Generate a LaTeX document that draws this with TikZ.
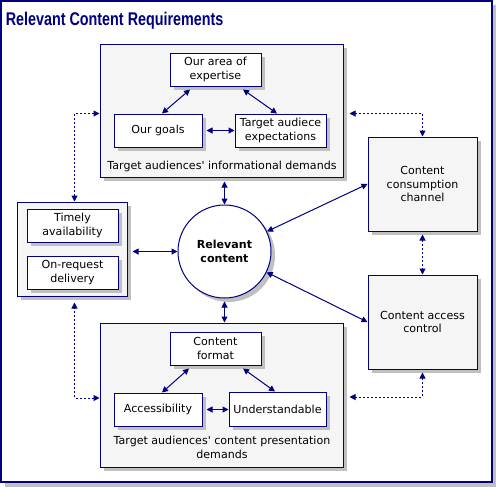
\documentclass[tikz,border=0pt]{standalone}
\usepackage{fontspec}
\setmainfont{DejaVu Sans}
\newfontfamily\headfont{Liberation Sans}
\usetikzlibrary{arrows.meta,calc}
\definecolor{navyline}{RGB}{0,0,128}
\definecolor{panelgray}{RGB}{245,245,245}
\definecolor{shadegray}{RGB}{192,192,192}
% node with a grey shadow 4px right and down
\newcommand{\shadednode}[4]{%
  \node [#1,draw=none,fill=shadegray] at ($(#3)+(4,4)$) {};
  \node [#1] (#2) at (#3) {#4};}

\begin{document}
\begin{tikzpicture}[x=0.75pt,y=-0.75pt,
  >={Triangle[length=4.5pt,width=4.5pt]},
  panel/.style={draw=navyline,line width=0.75pt,fill=panelgray,inner sep=1pt,align=center,font=\fontsize{8.3}{10}\selectfont},
  item/.style={draw=navyline,line width=0.75pt,fill=white,align=center,inner sep=1pt,minimum width=68.25pt,minimum height=24.75pt,font=\fontsize{8.3}{10}\selectfont},
  caption/.style={align=center,font=\fontsize{8.3}{10}\selectfont},
  link/.style={navyline,line width=0.75pt,<->},
  dotlink/.style={link,dash pattern=on 1.5pt off 1.5pt}]

\useasboundingbox (0,0) rectangle (496,487);
%Shape: Outer frame
\fill [shadegray] (5,5) rectangle (496,487);
\draw [navyline,line width=1pt,fill=white] (1,1) rectangle (492,482);
% Text Node
\node [anchor=base west,inner sep=0pt,text=navyline,font=\headfont\bfseries\fontsize{13.8}{16}\selectfont] (title) at (5.5,25) {\scalebox{0.78}[1]{Relevant Content Requirements}};

%Shape: Informational demands
\shadednode{panel,minimum width=182.25pt,minimum height=99.75pt}{infodem}{221.5,110.5}{}
\shadednode{item}{expertise}{215.5,69.5}{Our area of\\expertise}
\shadednode{item,minimum width=66pt}{goals}{158,130.5}{Our goals}
\shadednode{item}{expect}{280.5,130.5}{Target audiece\\expectations}
% Text Node
\node [caption] (infolabel) at (222,166) {Target audiences\textquotesingle\ informational demands};

%Shape: Delivery
\shadednode{panel,minimum width=82.5pt,minimum height=70.5pt}{delivery}{72,249}{}
\shadednode{item}{timely}{72.5,225.5}{Timely\\availability}
\shadednode{item}{onrequest}{72.5,272.5}{On-request\\delivery}

%Shape: Circle
\shadednode{item,circle,minimum size=69.75pt,inner sep=0pt,font=\bfseries\fontsize{8.3}{10}\selectfont}{relevant}{224.5,251.5}{Relevant\\content}

%Shape: Presentation demands
\shadednode{panel,minimum width=182.25pt,minimum height=108pt}{presdem}{221.5,395}{}
\shadednode{item}{format}{215.5,348.5}{Content\\format}
\shadednode{item,minimum width=66pt}{access}{158,409.5}{Accessibility}
\shadednode{item,minimum width=72.75pt,minimum height=25.5pt}{underst}{277.5,409}{Understandable}
% Text Node
\node [caption] (preslabel) at (222,447.5) {Target audiences\textquotesingle\ content presentation\\demands};

%Shape: Channel and access control
\shadednode{panel,minimum width=81.75pt,minimum height=70.5pt}{channel}{422.5,184}{Content\\consumption\\channel}
\shadednode{panel,minimum width=81.75pt,minimum height=70.5pt}{control}{422.5,322}{Content access\\control}

%Straight Lines
\draw [link] ($(expertise.south)+(-25.5,3)$) -- ($(goals.north)+(4,0)$);
\draw [link] ($(expertise.south)+(27.5,3)$) -- ($(expect.north)+(-3.5,0)$);
\draw [link] ($(goals.east)+(4,0)$) -- (expect.west);
\draw [link] ($(format.south)+(-26.5,3)$) -- ($(access.north)+(4,0)$);
\draw [link] ($(format.south)+(27.5,3)$) -- ($(underst.north)+(-2.5,0)$);
\draw [link] ($(access.east)+(4,0)$) -- (access.east -| underst.west);
%Straight Lines
\draw [link] (relevant.north) -- ($(relevant.north |- infodem.south)+(0,4)$);
\draw [link] ($(relevant.south)+(0,3)$) -- (relevant.south |- presdem.north);
\draw [link] ($(delivery.east)+(5,2.5)$) -- (relevant.west);
\draw [link] (relevant) -- (channel.west);
\draw [link] (relevant) -- (control.west);
%Dotted Lines
\draw [dotlink] ($(infodem.west)+(0,3)$) -| ($(delivery.north)+(2.5,0)$);
\draw [dotlink] ($(infodem.east)+(6,3)$) -| (channel.north);
\draw [dotlink] ($(channel.south)+(0,3)$) -- (control.north);
\draw [dotlink] ($(presdem.east)+(6,2)$) -| ($(control.south)+(0,3)$);
\draw [dotlink] ($(presdem.west)+(0,3)$) -| ($(delivery.south)+(2.5,6)$);

\end{tikzpicture}
\end{document}
